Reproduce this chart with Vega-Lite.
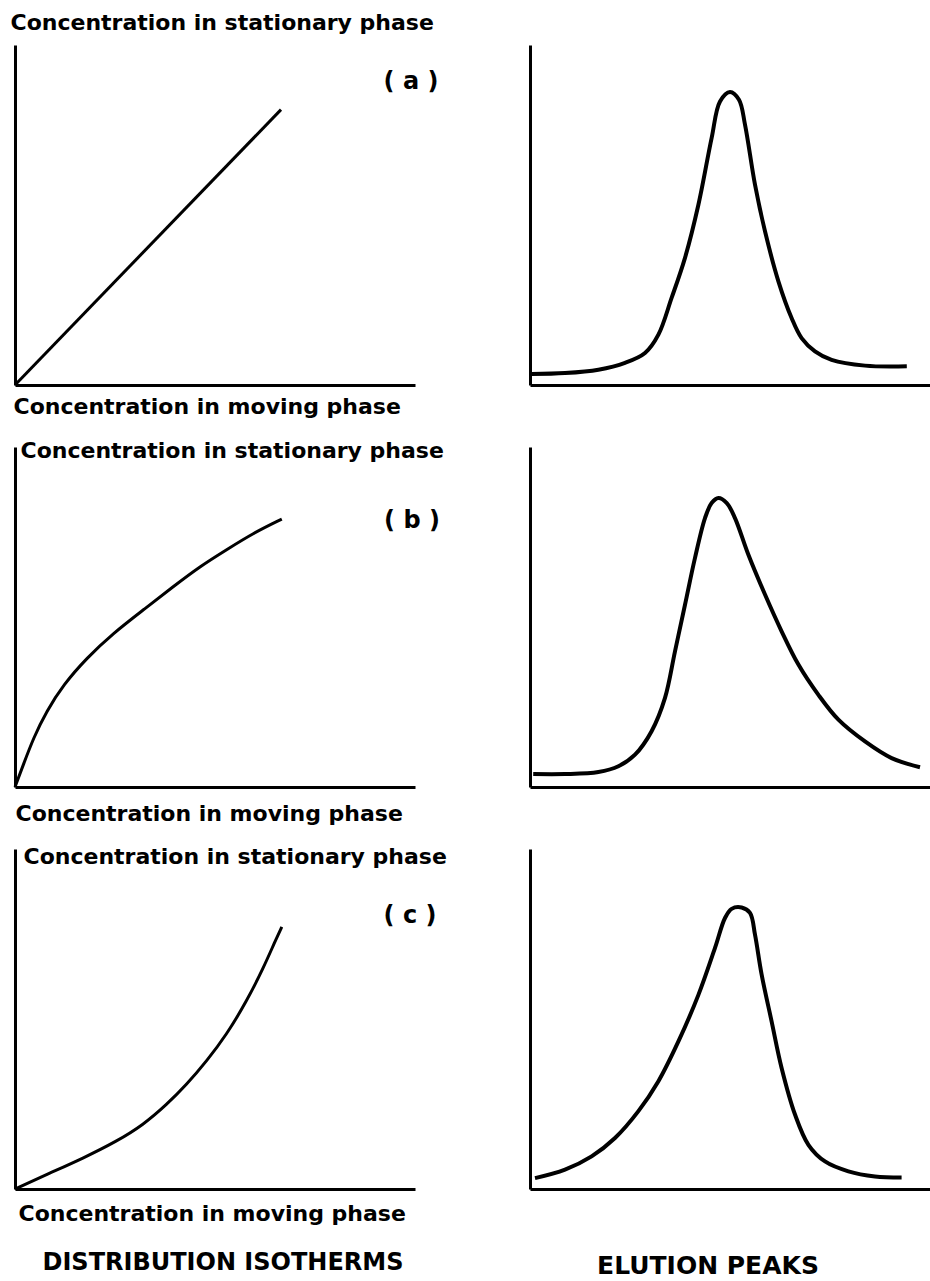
{
  "$schema": "https://vega.github.io/schema/vega-lite/v6.json",
  "background": "white",
  "padding": {"left": 9, "top": 11, "right": 0, "bottom": 0},
  "config": {
    "view": {"stroke": null},
    "axis": {"domainColor": "black", "domainWidth": 3, "ticks": false, "labels": false, "grid": false,
             "titleFont": "DejaVu Sans", "titleFontSize": 22, "titleFontWeight": "bold", "titleColor": "black"},
    "title": {"font": "DejaVu Sans", "fontSize": 24, "fontWeight": "bold", "color": "black"},
    "text": {"font": "DejaVu Sans", "fontSize": 24, "fontWeight": "bold", "color": "black"}
  },
  "bounds": "flush",
  "columns": 2,
  "spacing": {"row": 62, "column": 115},
  "concat": [
    {
      "width": 400, "height": 340,
      "encoding": {
        "x": {"field": "x", "type": "quantitative", "scale": {"domain": [0, 100], "nice": false},
              "axis": {"title": "Concentration in moving phase", "titleAnchor": "start", "titleAlign": "left", "titleBaseline": "middle", "titleX": -2, "titleY": 21}},
        "y": {"field": "y", "type": "quantitative", "scale": {"domain": [0, 100], "nice": false},
              "axis": {"title": "Concentration in stationary phase", "titleAngle": 0, "titleAlign": "left", "titleBaseline": "middle", "titleX": -5, "titleY": -23}}
      },
      "layer": [
        {"data": {"values": [{"x": 0, "y": 0}, {"x": 66.5, "y": 81}]},
         "mark": {"type": "line", "color": "black", "strokeWidth": 3}},
        {"data": {"values": [{"x": 99, "y": 89, "label": "( a )"}]},
         "mark": {"type": "text", "align": "center", "baseline": "middle"},
         "encoding": {"text": {"field": "label"}}}
      ]
    },
    {
      "width": 400, "height": 340,
      "data": {"values": [
        {"x": 0.4, "y": 3.2}, {"x": 8.75, "y": 3.5}, {"x": 17.1, "y": 4.5}, {"x": 23.75, "y": 6.5},
        {"x": 28.75, "y": 9.4}, {"x": 32.1, "y": 14.8}, {"x": 35.4, "y": 25.6}, {"x": 38.75, "y": 37.4},
        {"x": 42.1, "y": 53}, {"x": 45.4, "y": 72.6}, {"x": 47.5, "y": 83.4}, {"x": 50, "y": 86.2},
        {"x": 52.25, "y": 83.9}, {"x": 53.75, "y": 76.6}, {"x": 56.25, "y": 58.9}, {"x": 58.75, "y": 45.2},
        {"x": 62.1, "y": 30.5}, {"x": 65.4, "y": 19.7}, {"x": 67.9, "y": 13.8}, {"x": 71.25, "y": 9.9},
        {"x": 75.4, "y": 7.4}, {"x": 83.75, "y": 5.7}, {"x": 94.2, "y": 5.5}
      ]},
      "mark": {"type": "line", "color": "black", "strokeWidth": 4, "interpolate": "catmull-rom"},
      "encoding": {
        "x": {"field": "x", "type": "quantitative", "scale": {"domain": [0, 100], "nice": false}, "axis": {"title": null}},
        "y": {"field": "y", "type": "quantitative", "scale": {"domain": [0, 100], "nice": false}, "axis": {"title": null}}
      }
    },
    {
      "width": 400, "height": 340,
      "encoding": {
        "x": {"field": "x", "type": "quantitative", "scale": {"domain": [0, 100], "nice": false},
              "axis": {"title": "Concentration in moving phase", "titleAnchor": "start", "titleAlign": "left", "titleBaseline": "middle", "titleX": 0, "titleY": 26}},
        "y": {"field": "y", "type": "quantitative", "scale": {"domain": [0, 100], "nice": false},
              "axis": {"title": "Concentration in stationary phase", "titleAngle": 0, "titleAlign": "left", "titleBaseline": "middle", "titleX": 5, "titleY": 3}}
      },
      "layer": [
        {"data": {"values": [
          {"x": 0, "y": 0}, {"x": 2.1, "y": 6.6}, {"x": 4.6, "y": 14.4}, {"x": 7.9, "y": 22.3},
          {"x": 12.1, "y": 30.1}, {"x": 17.9, "y": 37.9}, {"x": 24.6, "y": 45.3}, {"x": 32.1, "y": 52.1},
          {"x": 39.6, "y": 59}, {"x": 46.25, "y": 64.9}, {"x": 52.9, "y": 69.8}, {"x": 59.6, "y": 74.7},
          {"x": 66.7, "y": 78.8}
        ]},
         "mark": {"type": "line", "color": "black", "strokeWidth": 3, "interpolate": "basis"}},
        {"data": {"values": [{"x": 99.25, "y": 78.2, "label": "( b )"}]},
         "mark": {"type": "text", "align": "center", "baseline": "middle"},
         "encoding": {"text": {"field": "label"}}}
      ]
    },
    {
      "width": 400, "height": 340,
      "data": {"values": [
        {"x": 0.8, "y": 3.8}, {"x": 8.75, "y": 3.8}, {"x": 17.1, "y": 4.4}, {"x": 22.1, "y": 6.1},
        {"x": 26.25, "y": 9.5}, {"x": 30.4, "y": 16.4}, {"x": 33.75, "y": 26.2}, {"x": 36.25, "y": 39.9},
        {"x": 38.75, "y": 53.6}, {"x": 41.25, "y": 67.4}, {"x": 43.75, "y": 79.1}, {"x": 45.4, "y": 83.5},
        {"x": 47.1, "y": 85}, {"x": 49.2, "y": 83.5}, {"x": 51.25, "y": 79.1}, {"x": 54.6, "y": 68.3},
        {"x": 58.75, "y": 56.6}, {"x": 62.9, "y": 45.8}, {"x": 67.1, "y": 36}, {"x": 72.1, "y": 27.1},
        {"x": 77.1, "y": 19.8}, {"x": 83.75, "y": 13.4}, {"x": 90.4, "y": 8.5}, {"x": 97.5, "y": 5.8}
      ]},
      "mark": {"type": "line", "color": "black", "strokeWidth": 4, "interpolate": "catmull-rom"},
      "encoding": {
        "x": {"field": "x", "type": "quantitative", "scale": {"domain": [0, 100], "nice": false}, "axis": {"title": null}},
        "y": {"field": "y", "type": "quantitative", "scale": {"domain": [0, 100], "nice": false}, "axis": {"title": null}}
      }
    },
    {
      "width": 400, "height": 340,
      "title": {"text": "DISTRIBUTION ISOTHERMS", "orient": "bottom", "anchor": "middle", "offset": 27, "dx": 8},
      "encoding": {
        "x": {"field": "x", "type": "quantitative", "scale": {"domain": [0, 100], "nice": false},
              "axis": {"title": "Concentration in moving phase", "titleAnchor": "start", "titleAlign": "left", "titleBaseline": "middle", "titleX": 3, "titleY": 24}},
        "y": {"field": "y", "type": "quantitative", "scale": {"domain": [0, 100], "nice": false},
              "axis": {"title": "Concentration in stationary phase", "titleAngle": 0, "titleAlign": "left", "titleBaseline": "middle", "titleX": 8, "titleY": 7}}
      },
      "layer": [
        {"data": {"values": [
          {"x": 0, "y": 0}, {"x": 8.75, "y": 4.7}, {"x": 17.1, "y": 9.1}, {"x": 25.4, "y": 14},
          {"x": 32.1, "y": 18.9}, {"x": 37.9, "y": 24.8}, {"x": 42.9, "y": 30.7}, {"x": 47.9, "y": 37.6},
          {"x": 52.9, "y": 45.4}, {"x": 57.9, "y": 55.2}, {"x": 62.1, "y": 65}, {"x": 65, "y": 72.8},
          {"x": 66.7, "y": 77.1}
        ]},
         "mark": {"type": "line", "color": "black", "strokeWidth": 3, "interpolate": "basis"}},
        {"data": {"values": [{"x": 98.75, "y": 80.3, "label": "( c )"}]},
         "mark": {"type": "text", "align": "center", "baseline": "middle"},
         "encoding": {"text": {"field": "label"}}}
      ]
    },
    {
      "width": 400, "height": 340,
      "title": {"text": "ELUTION PEAKS", "orient": "bottom", "anchor": "middle", "offset": 65, "dx": -22, "fontSize": 25},
      "data": {"values": [
        {"x": 1.25, "y": 3.2}, {"x": 8.75, "y": 5.7}, {"x": 15.4, "y": 9.6}, {"x": 21.25, "y": 15},
        {"x": 27.1, "y": 22.9}, {"x": 32.1, "y": 31.7}, {"x": 37.1, "y": 43.4}, {"x": 42.1, "y": 57.1},
        {"x": 46.25, "y": 70.9}, {"x": 48.75, "y": 79.7}, {"x": 50.4, "y": 82.4}, {"x": 52.9, "y": 82.8},
        {"x": 55, "y": 81.2}, {"x": 56.25, "y": 74.8}, {"x": 57.9, "y": 63.1}, {"x": 60.4, "y": 49.3},
        {"x": 62.9, "y": 35.6}, {"x": 66.25, "y": 21.9}, {"x": 69.6, "y": 13}, {"x": 73.75, "y": 8.1},
        {"x": 79.6, "y": 5.2}, {"x": 86.25, "y": 3.7}, {"x": 92.9, "y": 3.4}
      ]},
      "mark": {"type": "line", "color": "black", "strokeWidth": 4, "interpolate": "catmull-rom"},
      "encoding": {
        "x": {"field": "x", "type": "quantitative", "scale": {"domain": [0, 100], "nice": false}, "axis": {"title": null}},
        "y": {"field": "y", "type": "quantitative", "scale": {"domain": [0, 100], "nice": false}, "axis": {"title": null}}
      }
    }
  ]
}
